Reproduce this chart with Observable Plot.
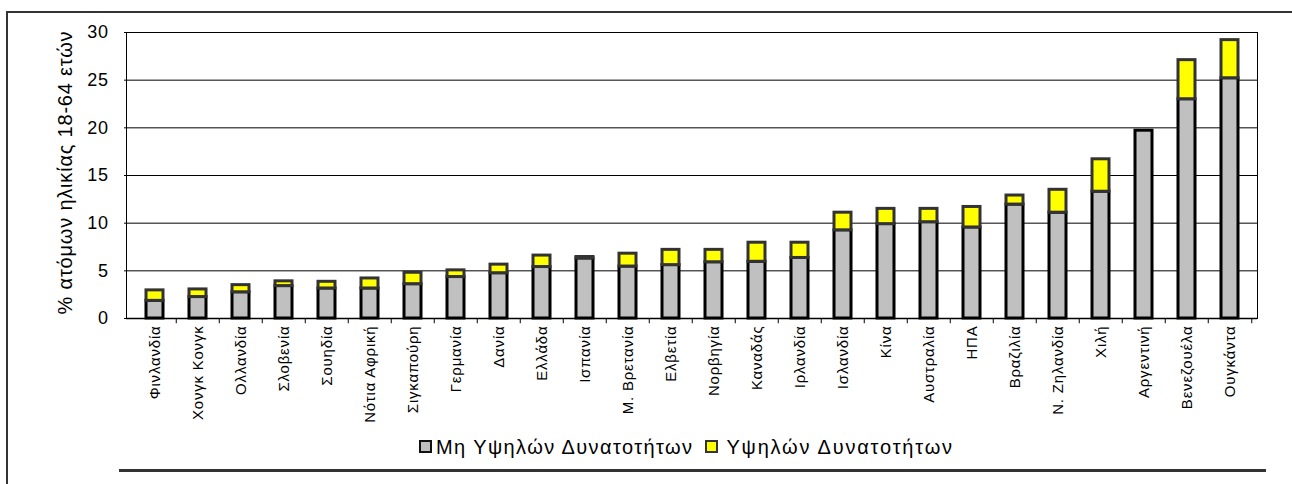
<!DOCTYPE html>
<html>
<head>
<meta charset="utf-8">
<script src="https://cdn.jsdelivr.net/npm/d3@7"></script>
<script src="https://cdn.jsdelivr.net/npm/@observablehq/plot@0.6"></script>
<style>
  html, body { margin: 0; padding: 0; background: #fff; overflow: hidden; }
  #wrap { position: relative; width: 1292px; height: 484px; overflow: hidden; font-family: "Liberation Sans", Arial, sans-serif; }
  #frame { position: absolute; left: 6px; top: 11px; width: 1400px; height: 600px; border: 2px solid #333; box-sizing: border-box; }
  #chart { position: absolute; left: 0; top: 0; }
  #legend { position: absolute; left: 419px; top: 434px; font-size: 20px; letter-spacing: 1.4px; color: #000; white-space: nowrap; line-height: 24px; }
  #legend .item { display: inline-flex; align-items: center; }
  #legend .item + .item { margin-left: 12px; }
  #legend .item + .item .sw { margin-right: 8px; }
  #legend .sw { display: inline-block; width: 9px; height: 9px; border: 2px solid #111; margin-right: 4px; }
  #legend .item + .item .txt { letter-spacing: 1.8px; }
  #rule { position: absolute; left: 119px; width: 1147px; top: 469px; height: 3px; background: #333; }
  g[aria-label="x-axis tick label"] text { letter-spacing: 0.8px; }
  g[aria-label="y-axis tick label"] text { letter-spacing: 0.6px; }
  g[aria-label="text"] text { letter-spacing: 0.8px; }
</style>
</head>
<body>
<div id="wrap">
  <div id="frame"></div>
  <div id="chart"></div>
  <div id="legend"></div>
  <div id="rule"></div>
</div>
<script>
const countries = ["Φινλανδία","Χονγκ Κονγκ","Ολλανδία","Σλοβενία","Σουηδία","Νότια Αφρική","Σιγκαπούρη","Γερμανία","Δανία","Ελλάδα","Ισπανία","Μ. Βρετανία","Ελβετία","Νορβηγία","Καναδάς","Ιρλανδία","Ισλανδία","Κίνα","Αυστραλία","ΗΠΑ","Βραζιλία","Ν. Ζηλανδία","Χιλή","Αργεντινή","Βενεζουέλα","Ουγκάντα"];
const nonHigh = [1.85,2.25,2.75,3.4,3.15,3.15,3.6,4.35,4.75,5.4,6.3,5.45,5.6,5.9,5.95,6.35,9.25,9.9,10.1,9.55,11.95,11.1,13.3,19.7,23.0,25.2];
const high = [1.1,0.8,0.75,0.5,0.7,1.05,1.2,0.7,0.9,1.2,0.15,1.35,1.6,1.3,2.0,1.6,1.85,1.6,1.4,2.15,0.95,2.4,3.4,0.0,4.1,4.0];
const seriesNames = ["Μη Υψηλών Δυνατοτήτων", "Υψηλών Δυνατοτήτων"];
const seriesFill = ["#C0C0C0", "#FFFF00"];
const seriesStroke = ["#000000", "#333333"];
const yTicks = [0, 5, 10, 15, 20, 25, 30];
const yLabel = "% ατόμων ηλικίας 18-64 ετών";

const rows = countries.map((c, i) => ({country: c, a: nonHigh[i], b: high[i], top: nonHigh[i] + high[i]}));

const W = 1292, H = 440;
const mL = 126, mR = 35, mT = 32, mB = 122;
const band = (W - mL - mR) / countries.length;

const chart = Plot.plot({
  width: W,
  height: H,
  marginLeft: mL,
  marginRight: mR,
  marginTop: mT,
  marginBottom: mB,
  style: {fontFamily: "'Liberation Sans', Arial, sans-serif", color: "#000", background: "transparent"},
  x: {domain: countries, padding: 0, label: null},
  y: {domain: [0, 30], label: null},
  marks: [
    Plot.gridY(yTicks, {stroke: "#000", strokeOpacity: 1, strokeWidth: 1}),
    Plot.frame({stroke: "#000", strokeWidth: 1}),
    Plot.barY(rows, {x: "country", y1: 0, y2: "a", fill: seriesFill[0], stroke: seriesStroke[0], strokeWidth: 3, insetLeft: 13, insetRight: 13}),
    Plot.barY(rows.filter(d => d.b > 0), {x: "country", y1: "a", y2: "top", fill: seriesFill[1], stroke: seriesStroke[1], strokeWidth: 3, insetLeft: 13, insetRight: 13}),
    Plot.ruleY([0], {stroke: "#000", strokeWidth: 1.5}),
    Plot.ruleX(countries.slice(1), {x: d => d, y1: 0, y2: -0.55, dx: -band / 2, stroke: "#000"}),
    Plot.ruleX(countries.slice(-1), {x: d => d, y1: 0, y2: -0.55, dx: band / 2, stroke: "#000"}),
    Plot.axisY({ticks: yTicks, tickSize: 2, tickPadding: 16, fontSize: 18, label: null}),
    Plot.axisX({tickSize: 0, tickPadding: 7, tickRotate: -90, fontSize: 15, label: null}),
    Plot.text([yLabel], {frameAnchor: "left", textAnchor: "middle", dx: -61, dy: -3, rotate: -90, fontSize: 20, text: d => d})
  ]
});
document.getElementById("chart").appendChild(chart);

const legend = document.getElementById("legend");
seriesNames.forEach((name, i) => {
  const item = document.createElement("span");
  item.className = "item";
  const sw = document.createElement("span");
  sw.className = "sw";
  sw.style.background = seriesFill[i];
  sw.style.borderColor = i === 0 ? "#111" : "#333";
  const txt = document.createElement("span");
  txt.className = "txt";
  txt.textContent = name;
  item.appendChild(sw);
  item.appendChild(txt);
  legend.appendChild(item);
});
</script>
</body>
</html>
